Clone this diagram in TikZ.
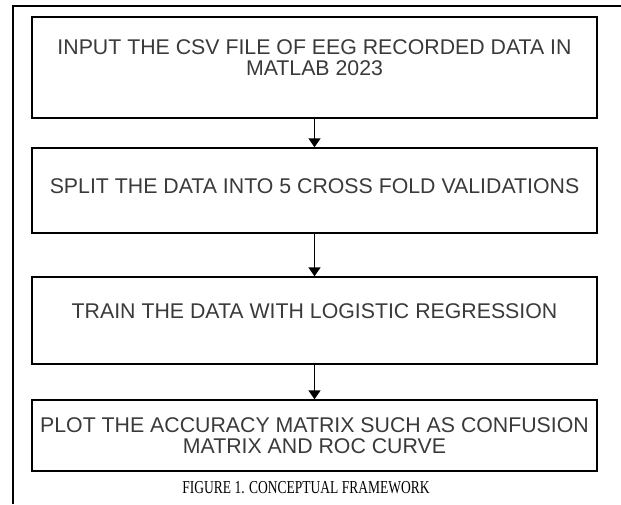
\documentclass[tikz,border=0pt]{standalone}
\usepackage{fontspec}
\setmainfont{Liberation Serif}
\newfontfamily\boxfont{Liberation Sans}
\usetikzlibrary{arrows.meta}
\definecolor{boxtext}{HTML}{3A3A3A}
% centred lines of text, moved up by #1 inside their box
\newcommand{\steptext}[2]{\raisebox{#1}[\height][\depth]{\begin{tabular}{@{}c@{}}#2\end{tabular}}}
\tikzset{
  stepbox/.style={draw=black, line width=1.4pt, minimum width=565pt,
    inner sep=0pt, font=\boxfont\fontsize{21.3}{20.5}\selectfont, text=boxtext},
  link/.style={draw=black, line width=1.4pt, -{Triangle[length=9pt,width=12pt]}},
}
\begin{document}
\begin{tikzpicture}[x=1pt,y=-1pt]
  \useasboundingbox (0,0) rectangle (621,504);
  % outer frame (open at right and bottom)
  \draw[line width=1.4pt] (13,504) -- (13,6) -- (621,6);
  % process steps
  \node[stepbox, minimum height=101pt] (s1) at (314.5,67.5)
    {\steptext{7pt}{INPUT THE CSV FILE OF EEG RECORDED DATA IN\\MATLAB 2023}};
  \node[stepbox, minimum height=85pt] (s2) at (314.5,190.5)
    {\steptext{1pt}{SPLIT THE DATA INTO 5 CROSS FOLD VALIDATIONS}};
  \node[stepbox, minimum height=87pt] (s3) at (314.5,320.5)
    {\steptext{6pt}{TRAIN THE DATA WITH LOGISTIC REGRESSION}};
  \node[stepbox, minimum height=71pt] (s4) at (314.5,435.5)
    {\steptext{-3pt}{PLOT THE ACCURACY MATRIX SUCH AS CONFUSION\\MATRIX AND ROC CURVE}};
  \node[font=\fontsize{13.5}{16}\selectfont, inner sep=0pt] (cap) at (306,488)
    {\scalebox{1}[1.35]{FIGURE 1. CONCEPTUAL FRAMEWORK}};
  % connectors
  \draw[link] (s1) -- (s2);
  \draw[link] (s2) -- (s3);
  \draw[link] (s3) -- (s4);
\end{tikzpicture}
\end{document}
